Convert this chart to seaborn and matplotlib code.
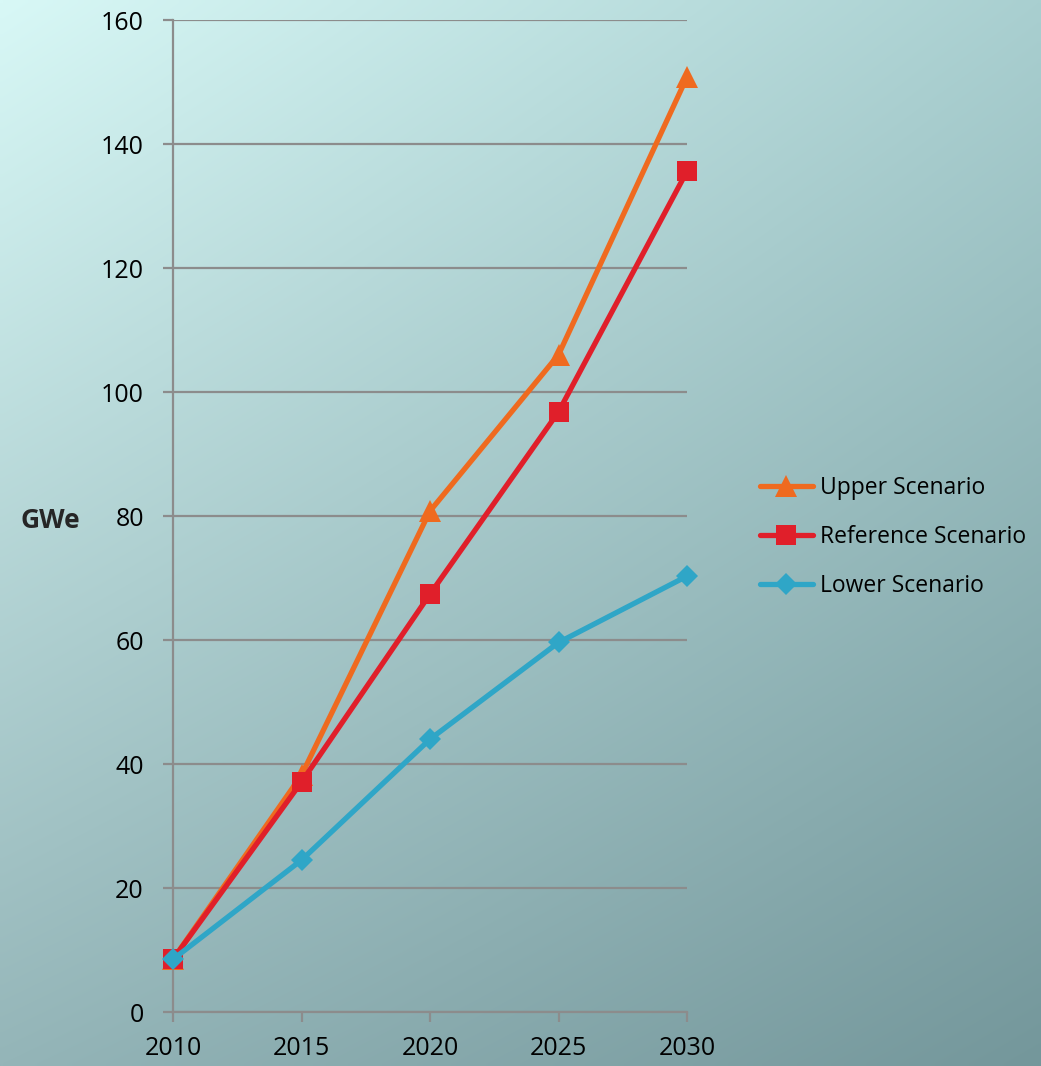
import numpy as np
import pandas as pd
import matplotlib
matplotlib.use("Agg")
import matplotlib.pyplot as plt
import seaborn as sns
from matplotlib.colors import to_rgb

years = [2010, 2015, 2020, 2025, 2030]
upper = [8.5, 38.2, 80.8, 106.0, 150.8]
reference = [8.5, 37.1, 67.4, 96.8, 135.6]
lower = [8.5, 24.5, 44.0, 59.6, 70.3]
series_names = ["Upper Scenario", "Reference Scenario", "Lower Scenario"]
y_ticks = [0, 20, 40, 60, 80, 100, 120, 140, 160]
y_label = "GWe"

sns.set_theme(style="white")
fonts = ["Open Sans", "DejaVu Sans"]
plt.rcParams["font.family"] = fonts

W, H = 1041, 1066
fig = plt.figure(figsize=(W / 100, H / 100), dpi=100)

# background gradient
bg = fig.add_axes([0, 0, 1, 1], zorder=-10)
tl, tr = np.array(to_rgb("#d8f8f6")), np.array(to_rgb("#a9cfd0"))
bl, br = np.array(to_rgb("#94b5b8")), np.array(to_rgb("#74979b"))
u = np.linspace(0, 1, 200)[None, :, None]
v = np.linspace(0, 1, 200)[:, None, None]
img = (1 - v) * ((1 - u) * tl + u * tr) + v * ((1 - u) * bl + u * br)
bg.imshow(img, aspect="auto", extent=[0, 1, 0, 1], interpolation="bilinear")
bg.axis("off")

ax = fig.add_axes([173 / W, 1 - 1012 / H, (687 - 173) / W, (1012 - 20) / H])
ax.set_facecolor("none")

df = pd.DataFrame({
    "year": years * 3,
    "value": upper + reference + lower,
    "series": [series_names[0]] * 5 + [series_names[1]] * 5 + [series_names[2]] * 5,
})
palette = {series_names[0]: "#ef6a1f", series_names[1]: "#e01f2a", series_names[2]: "#2fa6c7"}
markers = {series_names[0]: "^", series_names[1]: "s", series_names[2]: "D"}
sizes_m = {series_names[0]: 16, series_names[1]: 14, series_names[2]: 11}

for name in series_names:
    sub = df[df["series"] == name]
    sns.lineplot(data=sub, x="year", y="value", color=palette[name], marker=markers[name],
                 markersize=sizes_m[name], markeredgewidth=0, linewidth=3.8, ax=ax,
                 label=name, clip_on=False, zorder=3)

ax.set_xlim(2010, 2030)
ax.set_ylim(0, 160)
ax.set_xticks(years)
ax.set_yticks(y_ticks)
ax.grid(axis="y", color="#8c8c8c", linewidth=1.6)
ax.grid(axis="x", visible=False)
ax.set_axisbelow(True)
for s in ["top", "right"]:
    ax.spines[s].set_visible(False)
for s in ["left", "bottom"]:
    ax.spines[s].set_color("#8c8c8c")
    ax.spines[s].set_linewidth(1.6)
ax.tick_params(axis="both", which="major", length=7, width=1.6, color="#8c8c8c",
               labelsize=18, labelcolor="black", direction="out", left=True, bottom=True)
ax.tick_params(axis="x", pad=10)
ax.tick_params(axis="y", pad=14)
ax.set_xlabel("")
ax.set_ylabel("")
fig.text(20 / W, 1 - 520 / H, y_label, fontsize=19, fontweight="bold", va="center", ha="left")

leg = ax.legend(loc="center left", bbox_to_anchor=(760 / W, 1 - 537 / H),
                bbox_transform=fig.transFigure, frameon=False, fontsize=16.5,
                handlelength=2.3, handletextpad=0.3, labelspacing=1.1,
                borderpad=0, borderaxespad=0)
for t in leg.get_texts():
    t.set_color("black")

fig.savefig("out.png", dpi=100)
